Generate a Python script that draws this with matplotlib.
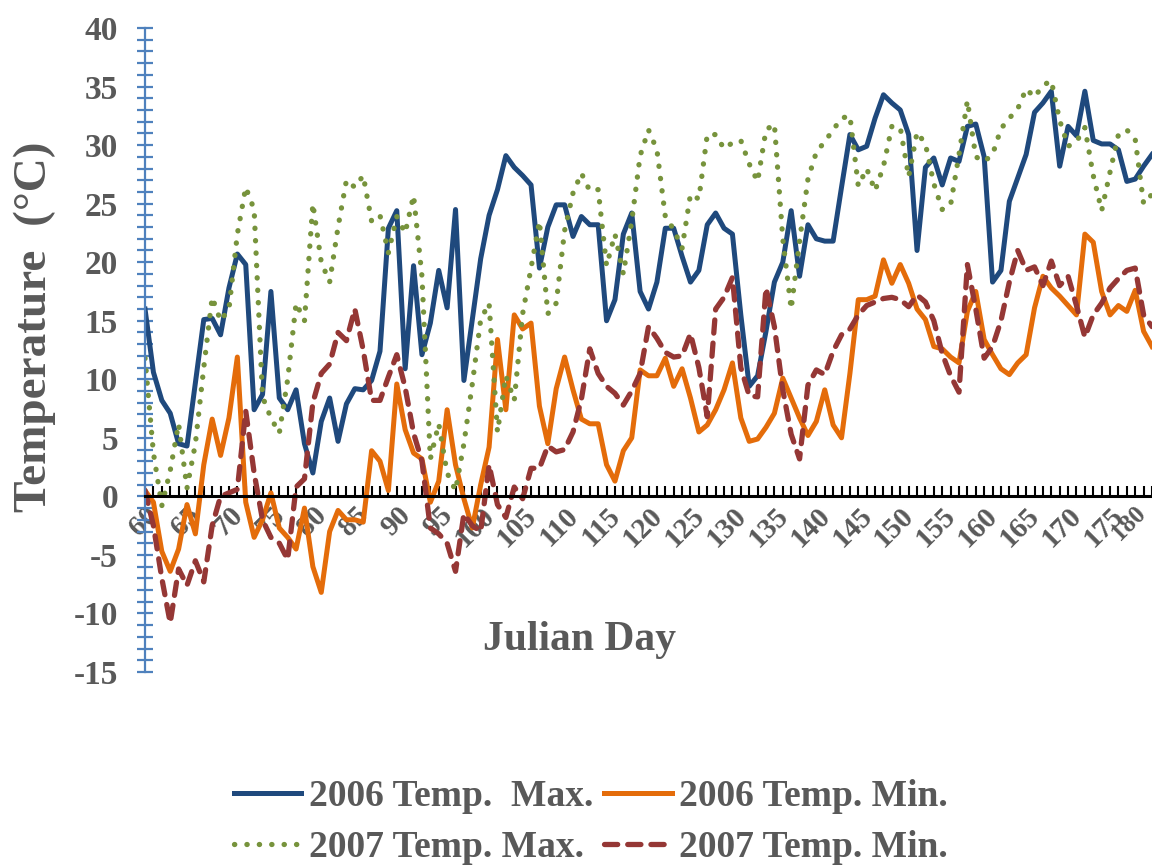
import matplotlib
matplotlib.use("Agg")
import matplotlib.pyplot as plt
import matplotlib.transforms as mtransforms
from matplotlib.ticker import MultipleLocator

plt.rcParams['font.family'] = ['Liberation Serif', 'DejaVu Serif']
plt.rcParams['font.weight'] = 'bold'
plt.rcParams['axes.unicode_minus'] = False

# Julian days 60..180
days = list(range(60, 181))

max_2006 = [
    16.0, 10.6, 8.2, 7.1, 4.5, 4.3, 9.7, 15.1, 15.2, 13.8,
    17.8, 20.7, 19.8, 7.4, 8.7, 17.5, 8.4, 7.4, 9.1, 4.5,
    2.0, 6.4, 8.4, 4.7, 7.9, 9.2, 9.1, 9.9, 12.4, 22.9,
    24.4, 10.9, 19.7, 12.1, 14.8, 19.3, 16.1, 24.5, 9.9, 15.1,
    20.3, 24.0, 26.2, 29.1, 28.1, 27.4, 26.6, 19.5, 23.0, 24.9,
    24.9, 22.2, 23.9, 23.2, 23.2, 15.0, 16.8, 22.4, 24.2, 17.5,
    16.0, 18.3, 22.9, 22.9, 20.5, 18.3, 19.3, 23.2, 24.2, 22.9,
    22.4, 15.5, 9.4, 10.3, 14.1, 18.3, 20.0, 24.4, 18.8, 23.2,
    22.0, 21.8, 21.8, 26.4, 30.9, 29.6, 29.9, 32.3, 34.3, 33.6,
    33.0, 30.9, 21.0, 28.1, 28.9, 26.6, 28.9, 28.6, 31.6, 31.8,
    29.0, 18.3, 19.3, 25.2, 27.2, 29.2, 32.8, 33.6, 34.6, 28.2,
    31.6, 30.8, 34.6, 30.4, 30.1, 30.1, 29.6, 26.9, 27.1, 28.2,
    29.2,
]

min_2006 = [
    0.5, -0.5, -4.7, -6.4, -4.5, -0.7, -3.2, 2.7, 6.6, 3.5,
    6.7, 11.9, -0.5, -3.5, -2.0, 0.3, -2.7, -3.5, -4.5, -1.0,
    -6.0, -8.2, -3.0, -1.2, -2.0, -2.0, -2.2, 3.9, 3.0, 0.5,
    9.6, 5.7, 3.7, 3.2, -0.5, 1.3, 7.4, 2.7, -0.2, -2.7,
    1.0, 4.2, 13.4, 7.4, 15.5, 14.3, 14.8, 7.7, 4.5, 9.2,
    11.9, 9.1, 6.6, 6.2, 6.2, 2.7, 1.3, 3.9, 5.0, 10.8,
    10.3, 10.3, 11.8, 9.4, 10.9, 8.4, 5.5, 6.1, 7.4, 9.1,
    11.4, 6.7, 4.7, 4.9, 5.9, 7.1, 10.1, 8.4, 6.7, 5.2,
    6.4, 9.1, 6.1, 5.0, 10.5, 16.8, 16.8, 17.1, 20.2, 18.2,
    19.8, 18.2, 16.0, 15.1, 12.8, 12.6, 11.9, 11.4, 15.8, 17.5,
    13.4, 12.1, 10.9, 10.4, 11.4, 12.1, 16.1, 18.8, 17.8, 17.1,
    16.3, 15.5, 22.4, 21.7, 17.5, 15.5, 16.3, 15.8, 17.6, 14.1,
    12.8,
]

max_2007 = [
    11.8, 3.7, -0.8, 2.2, 6.2, 0.7, 4.5, 11.0, 17.0, 15.0,
    16.0, 22.4, 26.4, 24.5, 8.5, 6.7, 5.4, 10.0, 16.5, 15.0,
    25.0, 20.0, 18.3, 23.0, 27.0, 26.4, 27.4, 23.5, 24.0, 20.8,
    23.9, 22.5, 25.7, 18.8, 3.2, 6.2, 2.0, 0.5, 4.5, 9.6,
    15.1, 16.5, 5.5, 10.3, 8.2, 15.6, 19.5, 23.5, 15.6, 16.5,
    22.7, 25.9, 27.6, 26.1, 26.2, 19.7, 22.4, 19.0, 23.5, 29.1,
    31.3, 29.6, 23.9, 22.8, 21.2, 25.8, 25.4, 30.9, 30.9, 29.7,
    30.2, 30.4, 28.4, 26.9, 31.3, 31.8, 22.0, 16.0, 21.8, 27.1,
    29.4, 30.3, 31.3, 32.3, 32.5, 26.5, 28.0, 26.1, 28.2, 31.6,
    31.5, 27.3, 31.1, 30.1, 26.7, 24.5, 24.9, 29.2, 33.8, 29.0,
    28.6, 29.2, 31.4, 32.3, 33.1, 34.8, 34.1, 35.1, 35.5, 32.1,
    29.9, 30.3, 31.5, 27.4, 24.4, 27.7, 30.9, 31.3, 30.5, 25.0,
    25.8,
]

min_2007 = [
    0.5, -2.5, -7.0, -10.8, -6.2, -7.6, -5.5, -7.3, -2.5, 0.0,
    0.3, 0.6, 7.3, 2.0, -2.0, -3.5, -4.0, -5.4, 0.8, 1.5,
    8.0, 10.5, 11.3, 14.0, 13.3, 16.0, 12.5, 8.2, 8.2, 10.2,
    12.1, 9.3, 5.4, 3.0, -2.7, -3.2, -4.0, -6.4, -1.5, -2.5,
    -3.0, 2.7, -0.7, -1.8, 0.8, -0.2, 2.4, 2.4, 4.3, 3.8,
    4.0, 5.5, 8.3, 12.6, 10.5, 9.4, 8.8, 7.8, 9.0, 10.5,
    14.5, 13.5, 12.3, 11.9, 12.0, 13.9, 11.0, 6.8, 16.0, 17.0,
    18.7, 11.0, 8.6, 8.5, 17.8, 14.5, 9.1, 5.3, 3.2, 9.5,
    10.8, 10.4, 12.4, 13.8, 14.3, 15.5, 16.3, 16.6, 16.9, 17.0,
    16.8, 16.2, 17.2, 16.6, 15.0, 12.2, 10.3, 8.9, 19.8, 16.0,
    11.8, 12.8, 15.0, 18.3, 21.0, 19.3, 19.6, 18.0, 20.1, 18.0,
    18.8, 16.3, 13.6, 15.5, 16.5, 17.8, 18.6, 19.3, 19.5, 15.5,
    14.5,
]

x_ticks = list(range(60, 181, 5))
grey = '#595959'

fig = plt.figure(figsize=(11.52, 8.65), dpi=100)
ax = fig.add_axes([0.1259, 0.2231, 0.8741, 0.7445])

l1, = ax.plot(days, max_2006, color='#1F497D', lw=3.6, label='2006 Temp.  Max.')
l2, = ax.plot(days, min_2006, color='#E46C0A', lw=3.6, label='2006 Temp. Min.')
l3, = ax.plot(days, max_2007, color='#77933C', lw=3.8, linestyle=(0, (0.05, 2.3)),
              dash_capstyle='round', label='2007 Temp. Max.')
l4, = ax.plot(days, min_2007, color='#953735', lw=3.8, linestyle=(0, (2.5, 1.9)),
              dash_capstyle='round', label='2007 Temp. Min.')

ax.set_xlim(60, 180)
ax.set_ylim(-15, 40)

ax.spines['top'].set_visible(False)
ax.spines['right'].set_visible(False)
ax.spines['left'].set_color('#4F81BD')
ax.spines['left'].set_linewidth(1.6)
ax.spines['bottom'].set_position(('data', 0))
ax.spines['bottom'].set_color('black')
ax.spines['bottom'].set_linewidth(2.2)

# y axis: blue ticks every degree, labels every 5
ax.yaxis.set_major_locator(MultipleLocator(5))
ax.yaxis.set_minor_locator(MultipleLocator(1))
ax.tick_params(axis='y', which='both', direction='inout', length=11, width=1.6,
               color='#4F81BD', labelsize=24, labelcolor=grey, pad=14)

# x axis: small ticks every day, labels every 5 days
ax.set_xticks(x_ticks)
ax.set_xticklabels([str(d) for d in x_ticks], rotation=45, ha='right', va='top',
                   rotation_mode='anchor')
ax.xaxis.set_minor_locator(MultipleLocator(1))
ax.tick_params(axis='x', which='both', direction='in', length=7, width=1.5,
               color='black', labelsize=21, labelcolor=grey, pad=4)

# the last label sits on the right edge: shrink and nudge it so it stays inside
last = ax.get_xticklabels()[-1]
last.set_fontsize(18)
last.set_transform(last.get_transform() +
                   mtransforms.ScaledTranslation(-13 / 72, 0, fig.dpi_scale_trans))

fig.text(0.030, 0.622, 'Temperature  (°C)', rotation=90, ha='center', va='center',
         fontsize=34, color=grey)
fig.text(0.503, 0.260, 'Julian Day', ha='center', va='center', fontsize=30, color=grey)

fig.legend([l1, l3, l2, l4], [l.get_label() for l in (l1, l3, l2, l4)],
           loc='center', bbox_to_anchor=(0.513, 0.050), ncol=2, frameon=False,
           fontsize=27, labelcolor=grey, handlelength=1.8, handletextpad=0.2,
           columnspacing=0.3, labelspacing=0.42)

fig.savefig('out.png', dpi=100, facecolor='white')
